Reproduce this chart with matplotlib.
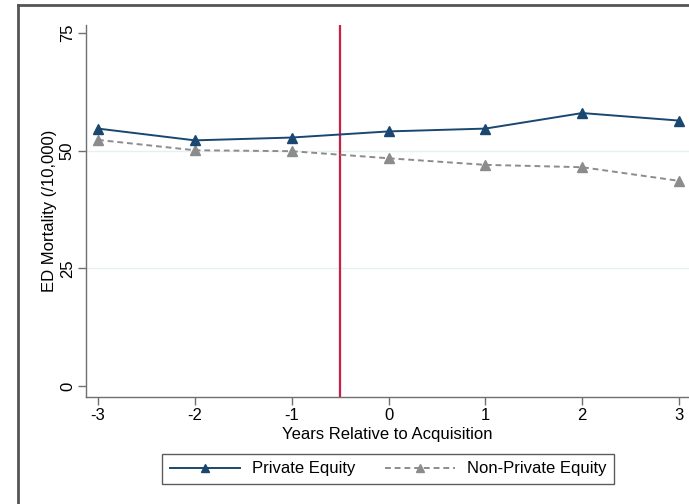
import matplotlib.pyplot as plt
from matplotlib.lines import Line2D

plt.rcParams['font.family'] = ['Liberation Sans', 'DejaVu Sans']
plt.rcParams['axes.unicode_minus'] = False

years = [-3, -2, -1, 0, 1, 2, 3]
pe_mortality = [54.7, 52.2, 52.8, 54.1, 54.7, 58.0, 56.4]
non_pe_mortality = [52.3, 50.1, 49.9, 48.4, 47.0, 46.5, 43.6]
y_ticks = [0, 25, 50, 75]
acquisition_line = -0.5

navy = '#1a476f'
grey = '#8c8c8c'
axis_grey = '#707070'
fs = 12

fig = plt.figure(figsize=(6.89, 5.04), dpi=100)
ax = fig.add_axes([0.1248, 0.2123, 0.8752, 0.7381])

for y in [25, 50]:
    ax.axhline(y, color='#e6f0f2', linewidth=1, zorder=0)

ax.axvline(acquisition_line, color='#cc1f45', linewidth=1.6, zorder=1)

ax.plot(years, pe_mortality, color=navy, linewidth=1.4, marker='^',
        markersize=6.5, label='Private Equity', zorder=3)
ax.plot(years, non_pe_mortality, color=grey, linewidth=1.4, linestyle=(0, (3, 2)),
        marker='^', markersize=6.5, label='Non-Private Equity', zorder=2)

ax.set_xlim(-3.124, 3.103)
ax.set_ylim(-2.3, 76.7)
ax.set_xticks(years)
ax.set_yticks(y_ticks)
ax.set_yticklabels([str(t) for t in y_ticks], rotation=90, va='center')

for side in ['top', 'right']:
    ax.spines[side].set_visible(False)
for side in ['left', 'bottom']:
    ax.spines[side].set_color(axis_grey)
    ax.spines[side].set_linewidth(1)
ax.tick_params(colors=axis_grey, labelcolor='black', labelsize=fs,
               length=6, width=1, direction='out', pad=2)

ax.set_xlabel('Years Relative to Acquisition', fontsize=fs, labelpad=3)
ax.set_ylabel('ED Mortality (/10,000)', fontsize=fs, labelpad=2)

leg = fig.legend(loc='center', bbox_to_anchor=(388 / 689, 1 - 469 / 504),
                 ncol=2, fontsize=fs, frameon=True, fancybox=False,
                 handlelength=4.2, columnspacing=1.8, borderpad=0.45,
                 handletextpad=0.7, markerscale=0.8)
leg.get_frame().set_edgecolor('#333333')
leg.get_frame().set_linewidth(1)

# outer frame (left and top edges visible in crop)
fig.add_artist(Line2D([0.026, 0.026], [0, 0.990], color='#555555',
                      linewidth=2, transform=fig.transFigure))
fig.add_artist(Line2D([0.026, 1], [0.990, 0.990], color='#555555',
                      linewidth=2, transform=fig.transFigure))

fig.savefig('out.png', dpi=100)
